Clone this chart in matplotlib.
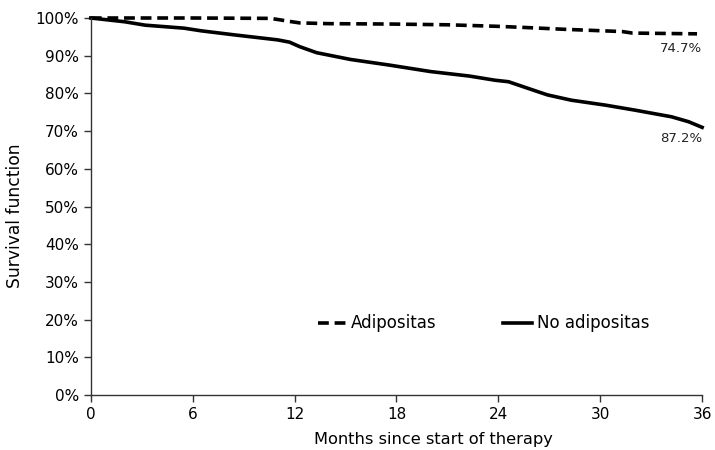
import matplotlib
matplotlib.use("Agg")
import matplotlib.pyplot as plt
from matplotlib.ticker import FuncFormatter

# Data (months, survival %)
months_no_adip = [0, 2.0, 3.2, 5.5, 6.5, 8.5, 11.0, 11.7, 12.3, 13.3, 15.3, 17.6,
                  20.0, 22.3, 23.8, 24.6, 26.3, 26.9, 28.3, 30.3, 32.0, 34.2, 35.2, 36.0]
surv_no_adip = [100, 99.0, 98.1, 97.3, 96.6, 95.5, 94.2, 93.6, 92.4, 90.8, 89.0, 87.5,
                85.8, 84.6, 83.5, 83.1, 80.5, 79.6, 78.2, 76.9, 75.6, 73.8, 72.5, 71.0]

months_adip = [0, 6, 10.6, 11.7, 12.3, 14.0, 17.6, 21.0, 23.9, 25.5, 27.9, 31.3, 31.9, 35.7]
surv_adip = [100, 100, 99.9, 99.1, 98.7, 98.5, 98.4, 98.2, 97.8, 97.5, 97.0, 96.4, 96.0, 95.8]

labels = ["Adipositas", "No adipositas"]
end_labels = ["74.7%", "87.2%"]
xticks = [0, 6, 12, 18, 24, 30, 36]
yticks = list(range(0, 101, 10))

plt.rcParams['font.family'] = ['DejaVu Sans']
fig = plt.figure(figsize=(7.15, 4.5), dpi=100)
ax = fig.add_axes([0.127, 0.122, 0.855, 0.838])

ax.plot(months_adip, surv_adip, color='black', lw=2.6, ls=(0, (3, 1.6)),
        label=labels[0], clip_on=False)
ax.plot(months_no_adip, surv_no_adip, color='black', lw=2.6, label=labels[1],
        clip_on=False)

ax.text(36, surv_adip[-1] - 2.2, end_labels[0], ha='right', va='top', fontsize=9.5, color='#222222')
ax.text(36, surv_no_adip[-1] - 1.3, end_labels[1], ha='right', va='top', fontsize=9.5, color='#222222')

ax.set_xlim(0, 36)
ax.set_ylim(0, 100)
ax.set_xticks(xticks)
ax.set_yticks(yticks)
ax.yaxis.set_major_formatter(FuncFormatter(lambda v, p: f"{int(v)}%"))
ax.tick_params(axis='both', direction='out', length=5, width=1, labelsize=11,
               colors='#333333', labelcolor='black')
for s in ['top', 'right']:
    ax.spines[s].set_visible(False)
for s in ['left', 'bottom']:
    ax.spines[s].set_color('#333333')
    ax.spines[s].set_linewidth(1)

ax.set_xlabel("Months since start of therapy", fontsize=11.7, va='center')
ax.xaxis.set_label_coords(0.56, -0.118)
ax.set_ylabel("Survival function", fontsize=12.3, va='center')
ax.yaxis.set_label_coords(-0.124, 0.477)

ax.legend(loc='center', bbox_to_anchor=(0.642, 0.19), ncol=2, frameon=False,
          fontsize=12, handlelength=1.7, handletextpad=0.3, columnspacing=4.0)

fig.savefig("out.png", dpi=100)
